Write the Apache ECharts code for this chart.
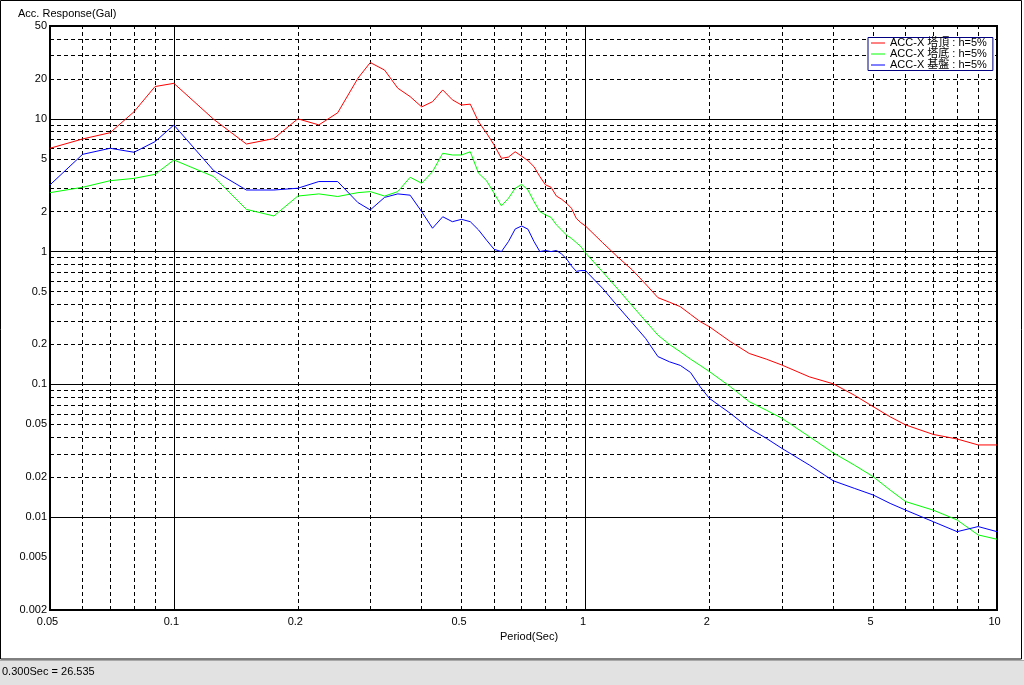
<!DOCTYPE html>
<html><head><meta charset="utf-8">
<script src="https://cdn.jsdelivr.net/npm/echarts@6/dist/echarts.min.js"></script>
<style>html,body{margin:0;padding:0;background:#fff;} #c{width:1024px;height:685px;}</style>
</head><body><div id="c"></div>
<script>
// ---- data (period in sec, response in Gal) ----
const periods = [0.05,0.06,0.07,0.08,0.09,0.1,0.125,0.15,0.175,0.2,0.225,0.25,0.28,0.3,
  0.325,0.35,0.375,0.4,0.425,0.45,0.475,0.5,0.525,0.55,0.575,0.6,0.625,0.65,0.675,0.7,
  0.725,0.75,0.775,0.8,0.825,0.85,0.875,0.9,0.925,0.95,0.975,1.0,1.1,1.2,1.3,1.4,1.5,
  1.6,1.7,1.8,1.9,2.0,2.25,2.5,2.75,3.0,3.5,4.0,4.5,5.0,5.5,6.0,7.0,8.0,9.0,10.0];
const accTop = [6.0,7.05,7.86,11.3,17.5,18.5,9.9,6.46,7.1,10.0,9.0,11.1,20.2,26.535,
  23.3,17.0,14.7,12.3,13.45,16.5,13.9,12.7,12.9,9.5,7.8,6.35,5.04,5.15,5.65,5.23,
  4.84,4.36,3.67,3.18,3.05,2.62,2.48,2.31,2.12,1.78,1.65,1.56,1.17,0.906,0.727,0.57,0.45,
  0.416,0.385,0.337,0.297,0.272,0.21,0.171,0.155,0.14,0.114,0.101,0.083,0.068,0.057,0.0495,0.042,0.0388,0.035,0.035];
const accBottom = [2.78,3.05,3.42,3.56,3.82,4.9,3.67,2.08,1.855,2.62,2.72,2.6,2.78,2.83,
  2.62,2.83,3.63,3.27,4.0,5.5,5.34,5.34,5.65,3.89,3.42,2.75,2.21,2.52,3.0,3.21,
  2.91,2.38,2.0,1.89,1.81,1.59,1.455,1.33,1.256,1.17,1.09,0.98,0.706,0.52,0.39,0.3,0.235,
  0.2,0.176,0.155,0.139,0.125,0.096,0.0741,0.064,0.0556,0.0404,0.0305,0.0247,0.0202,0.016,0.0131,0.0113,0.00953,0.00735,0.00682];
const accGround = [3.18,5.4,6.0,5.6,6.73,8.98,4.07,2.91,2.91,3.0,3.37,3.37,2.34,2.06,
  2.56,2.72,2.66,2.0,1.5,1.83,1.68,1.75,1.68,1.455,1.22,1.04,1.0,1.19,1.48,1.56,
  1.475,1.19,1.0,1.02,1.0,1.02,0.96,0.88,0.78,0.71,0.72,0.72,0.53,0.385,0.29,0.222,0.162,
  0.148,0.139,0.123,0.096,0.0785,0.0605,0.0467,0.0393,0.033,0.0247,0.0188,0.0165,0.0147,0.0127,0.0113,0.00925,0.00778,0.0085,0.00778];
const seriesNames = ['ACC-X 塔頂 : h=5%','ACC-X 塔底 : h=5%','ACC-X 基盤 : h=5%'];
const seriesColors = ['#ff0000','#00ff00','#0000ff'];
const xTickLabels = [0.05,0.1,0.2,0.5,1,2,5,10];
const yTickLabels = [0.002,0.005,0.01,0.02,0.05,0.1,0.2,0.5,1,2,5,10,20,50];
const xMajorGrid = [0.1,1];
const xMinorGrid = [0.06,0.07,0.08,0.09,0.2,0.3,0.4,0.5,0.6,0.7,0.8,0.9,2,3,4,5,6,7,8,9];
const yMajorGrid = [0.01,0.1,1,10];
const yMinorGrid = [0.003,0.004,0.005,0.006,0.007,0.008,0.009,0.02,0.03,0.04,0.05,0.06,0.07,0.08,0.09,
  0.2,0.3,0.4,0.5,0.6,0.7,0.8,0.9,2,3,4,5,6,7,8,9,20,30,40];
const yTitle = 'Acc. Response(Gal)';
const xTitle = 'Period(Sec)';
const statusText = '0.300Sec = 26.535';

// ---- chart ----
const FONT = "'Liberation Sans', Arial, 'Noto Sans CJK JP', sans-serif";
const fmt = v => String(+(+v).toPrecision(6));
const chart = echarts.init(document.getElementById('c'), null, {renderer:'canvas'});
const solid = {color:'#000', width:1, type:'solid'};
const dashed = {color:'#000', width:1, type:[4,3]};
const gridLines = [].concat(
  xMinorGrid.map(v => ({xAxis:v, lineStyle:dashed})),
  yMinorGrid.map(v => ({yAxis:v, lineStyle:dashed})),
  xMajorGrid.map(v => ({xAxis:v, lineStyle:solid})),
  yMajorGrid.map(v => ({yAxis:v, lineStyle:solid}))
);
const dataSeries = seriesNames.map((name, k) => {
  const arr = [accTop, accBottom, accGround][k];
  return {
    type:'line', name, data: periods.map((p,i) => [p, arr[i]]),
    symbol:'none', showSymbol:false, z:3, legendHoverLink:false,
    lineStyle:{width:1, color:seriesColors[k]}, itemStyle:{color:seriesColors[k]},
    emphasis:{disabled:true}
  };
});
chart.setOption({
  animation:false,
  backgroundColor:'#fff',
  title:{text:yTitle, left:18, top:8, padding:0,
    textStyle:{fontSize:11, fontWeight:'normal', color:'#000', fontFamily:FONT}},
  legend:{data:seriesNames.map(n => ({name:n, icon:'path://M0 0H14V1H0Z'})),
    left:868, top:37.5, orient:'vertical', itemGap:0,
    itemWidth:14, itemHeight:1, padding:[0,6,0,3], borderColor:'#000080', borderWidth:1,
    backgroundColor:'#fff', selectedMode:false,
    textStyle:{fontSize:11, lineHeight:10, height:10, color:'#000', fontFamily:FONT}},
  grid:{left:50, top:26, width:947, height:584, show:true, borderColor:'#000', borderWidth:2, backgroundColor:'#fff'},
  xAxis:{type:'log', logBase:10, min:0.05, max:10,
    name:xTitle, nameLocation:'middle', nameGap:19,
    nameTextStyle:{fontSize:11, color:'#000', fontFamily:FONT, padding:[0,0,0,11]},
    axisLine:{show:false}, axisTick:{show:false}, splitLine:{show:false},
    axisLabel:{customValues:xTickLabels, formatter:fmt, fontSize:11, color:'#000', margin:6,
      padding:[0,5,0,0], fontFamily:FONT}},
  yAxis:{type:'log', logBase:10, min:0.002, max:50,
    axisLine:{show:false}, axisTick:{show:false}, splitLine:{show:false},
    axisLabel:{customValues:yTickLabels, formatter:fmt, fontSize:11, color:'#000', margin:3, fontFamily:FONT}},
  series:[{
    type:'line', name:'_grid', data:[], z:1, silent:true,
    markLine:{silent:true, symbol:['none','none'], label:{show:false}, z:1, animation:false,
      emphasis:{disabled:true}, data:gridLines}
  }].concat(dataSeries),
  graphic:[
    {type:'rect', z:100, silent:true, shape:{x:0.5, y:0.5, width:1021, height:658.5},
      style:{fill:null, stroke:'#000', lineWidth:1}},
    {type:'rect', z:100, silent:true, shape:{x:0, y:660, width:1024, height:25},
      style:{fill:'#e2e2e2', stroke:null}},
    {type:'line', z:101, silent:true, shape:{x1:0, y1:660.5, x2:1024, y2:660.5},
      style:{stroke:'#a8a8a8', lineWidth:1}},
    {type:'text', z:101, silent:true, left:2, top:666,
      style:{text:statusText, fontSize:11, fill:'#000', fontFamily:FONT}}
  ]
});
</script></body></html>
